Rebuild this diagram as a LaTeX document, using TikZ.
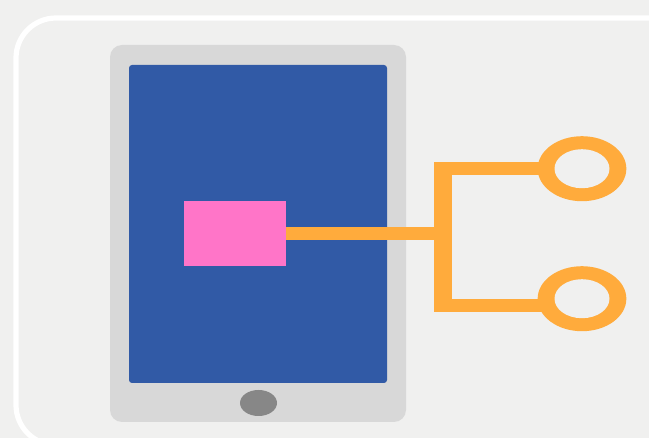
\documentclass[tikz,border=0pt]{standalone}
\usetikzlibrary{shapes.geometric}
\definecolor{bgc}{HTML}{F0F0EF}
\definecolor{devc}{HTML}{D8D8D8}
\definecolor{scrc}{HTML}{315AA6}
\definecolor{pinkc}{HTML}{FF75C8}
\definecolor{orc}{HTML}{FFAB3C}
\definecolor{btnc}{HTML}{878787}
\tikzset{
  box/.style={rectangle,inner sep=0pt,outer sep=0pt,minimum width=#1},
  ringouter/.style={ellipse,fill=orc,inner sep=0pt,outer sep=0pt,minimum width=88.7pt,minimum height=65pt},
  ringhole/.style={ellipse,fill=bgc,inner sep=0pt,outer sep=0pt,minimum width=55pt,minimum height=39pt},
  wire/.style={draw=orc,line width=12.8pt,line cap=butt},
  spine/.style={draw=orc,line width=18pt,line cap=butt}
}
\begin{document}
\begin{tikzpicture}[x=1pt,y=-1pt]
\useasboundingbox (0,0) rectangle (649,438);
\fill[bgc] (0,0) rectangle (649,438);
\begin{scope}
\clip (0,0) rectangle (649,438);
\draw[white,line width=5.2pt,rounded corners=40pt] (16,18) rectangle (690,445);
\node[box=296pt,minimum height=377pt,fill=devc,rounded corners=12pt] (device) at (258,233.5) {};
\node[box=258pt,minimum height=318pt,fill=scrc,rounded corners=3pt] (screen) at (258,224) {};
\node[ellipse,fill=btnc,inner sep=0pt,minimum width=37pt,minimum height=26pt] (button) at (258.5,403) {};
\node[box=102pt,minimum height=65pt,fill=pinkc] (app) at (235,233.5) {};
\node[ringouter] (ringA) at (582,168.7) {};
\node[ringouter] (ringB) at (582,298.7) {};
\coordinate (hub) at (443,233.6);
\coordinate (spineTop) at (443,162.3);
\coordinate (spineBot) at (443,312.3);
\coordinate (topEnd) at (434,168.7);
\coordinate (botEnd) at (434,305.7);
\coordinate (botRing) at (545,305.7);
\draw[wire] (app.east |- hub) -- (hub);
\draw[spine] (spineTop) -- (spineBot);
\draw[wire] (topEnd) -- (ringA.center);
\draw[wire] (botEnd) -- (botRing);
\node[ringhole] (holeA) at (582,168.7) {};
\node[ringhole] (holeB) at (582,298.7) {};
\end{scope}
\end{tikzpicture}
\end{document}
